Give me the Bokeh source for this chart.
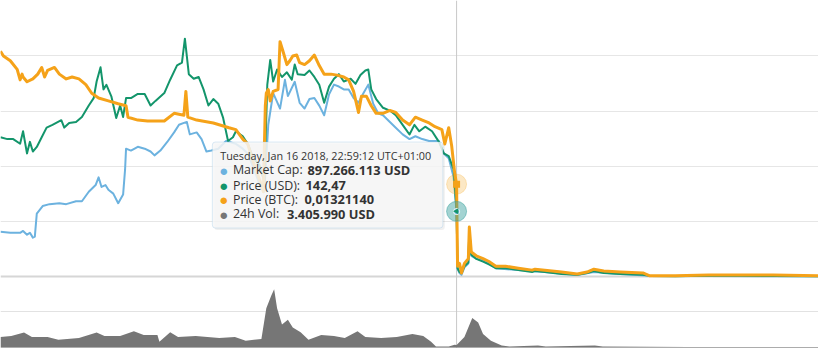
import pandas as pd
from bokeh.plotting import figure
from bokeh.models import Range1d, Grid, FixedTicker, Span, BoxAnnotation, Label
from bokeh.embed import file_html
from bokeh.resources import INLINE

# ---------------- data ----------------
crash_time = pd.Timestamp("2018-01-16 22:59:12")
start_time = pd.Timestamp("2017-12-01 10:59:12")
window_days = 83.4

usd_days = [0, 0.7, 1.3, 2.0, 2.3, 2.7, 3.0, 3.3, 3.7, 4.2, 4.7, 5.3, 6.2, 6.5, 7.0, 7.7, 8.3, 9.0, 9.5, 9.8,
            10.2, 10.5, 10.8, 11.3, 11.8, 12.2, 12.5, 12.8, 13.3, 14.0, 14.7, 15.3, 15.8, 16.7, 17.3, 18.0, 18.5, 18.8, 19.2, 19.7,
            20.2, 20.7, 21.2, 21.7, 22.2, 22.7, 23.2, 23.7, 24.0, 24.7, 25.2, 25.8, 26.4, 26.9, 27.2, 27.5, 27.8, 28.2, 28.7, 29.2,
            29.7, 30.0, 30.3, 31.0, 31.5, 32.0, 32.5, 33.0, 33.5, 34.0, 34.5, 35.0, 35.7, 36.2, 36.7, 37.2, 37.5, 37.8, 38.3, 39.0,
            39.7, 40.3, 41.2, 41.7, 42.2, 42.7, 43.3, 44.0, 44.7, 45.2, 45.7, 46.2, 46.5, 46.6, 46.8, 47.0, 47.3, 47.7, 47.8, 48.0,
            48.5, 49.2, 49.8, 50.5, 51.5, 52.8, 54.2, 54.5, 55.5, 57.2, 58.8, 59.8, 60.5, 61.5, 63.2, 65.5, 66.2, 68.8, 72.2, 75.5,
            78.8, 83.4]
price_usd = [303, 299, 299, 289, 316, 268, 293, 272, 282, 303, 324, 330, 340, 324, 334, 336, 347, 372, 388, 424,
             455, 407, 417, 392, 345, 372, 347, 388, 388, 397, 397, 372, 382, 399, 428, 459, 465, 517, 440, 430,
             434, 407, 372, 386, 376, 345, 295, 303, 316, 305, 289, 257, 243, 206, 417, 471, 424, 450, 434, 444,
             428, 461, 440, 438, 448, 434, 417, 378, 413, 430, 440, 424, 430, 419, 438, 448, 450, 407, 386, 367,
             361, 351, 324, 309, 330, 316, 326, 316, 293, 268, 262, 233, 142.47, 18.7, 10.4, 8.3, 22.8, 31, 102, 48,
             39, 33, 27, 18.7, 18.7, 14.5, 10.4, 12.5, 10.4, 6.2, 4.2, 8.3, 12.5, 8.3, 6.2, 4.2, 2, 1, 2.1, 2.1,
             1.5, 1]

btc_days = [0, 0.3, 1.0, 1.7, 2.0, 2.2, 2.3, 2.7, 3.3, 3.8, 4.2, 4.5, 4.8, 5.5, 6.0, 6.7, 7.3, 8.0, 8.7, 9.3,
            10.0, 11.0, 12.0, 12.8, 13.0, 14.0, 15.0, 16.7, 17.7, 18.7, 18.9, 19.1, 20.0, 21.7, 23.3, 24.0, 24.7, 25.2, 25.8, 26.5,
            26.8, 27.0, 27.1, 27.3, 27.5, 27.8, 28.3, 28.5, 28.8, 29.2, 29.5, 29.8, 30.2, 30.5, 31.0, 31.5, 32.0, 32.5, 33.0, 33.7,
            34.3, 35.0, 35.5, 36.0, 36.5, 36.8, 37.3, 37.8, 38.3, 39.0, 39.7, 40.3, 41.0, 41.7, 42.3, 43.0, 43.7, 44.3, 45.0, 45.3,
            45.7, 46.0, 46.3, 46.5, 46.6, 46.8, 47.0, 47.3, 47.7, 47.8, 48.0, 48.5, 49.2, 49.8, 50.5, 51.5, 52.8, 54.2, 54.5, 55.5,
            57.2, 58.8, 59.8, 60.5, 61.5, 63.2, 65.5, 66.2, 68.8, 72.2, 75.5, 78.8, 83.4]
price_btc = [0.03217, 0.03149, 0.03081, 0.02958, 0.02808, 0.02890, 0.02849, 0.02781, 0.02822, 0.02890,
             0.02985, 0.02849, 0.02944, 0.02985, 0.02890, 0.02822, 0.02849, 0.02822, 0.02740, 0.02617,
             0.02549, 0.02508, 0.02467, 0.02440, 0.02276, 0.02235, 0.02222, 0.02222, 0.02331, 0.02303,
             0.02644, 0.02276, 0.02235, 0.02194, 0.02126, 0.02099, 0.01963, 0.01895, 0.01622, 0.01349,
             0.01213, 0.02440, 0.02617, 0.02671, 0.02508, 0.02644, 0.02671, 0.03353, 0.03217, 0.03026,
             0.03081, 0.03149, 0.03162, 0.03053, 0.03026, 0.03081, 0.03162, 0.03012, 0.02890, 0.02890,
             0.02876, 0.02849, 0.02808, 0.02644, 0.02344, 0.02576, 0.02576, 0.02440, 0.02331, 0.02331,
             0.02372, 0.02344, 0.02235, 0.02167, 0.02276, 0.02235, 0.02194, 0.02140, 0.02099, 0.01895,
             0.02126, 0.01867, 0.01486, 0.0132114, 0.00150, 0.00191, 0.00055, 0.00191, 0.00259, 0.00709,
             0.00354, 0.00300, 0.00259, 0.00218, 0.00150, 0.00150, 0.00123, 0.00095, 0.00109, 0.00095,
             0.00068, 0.00041, 0.00068, 0.00109, 0.00082, 0.00068, 0.00055, 0.00014, 0.00014, 0.00027,
             0.00027, 0.00027, 0.00014]

mcap_days = [0, 1.0, 2.0, 2.3, 2.7, 3.0, 3.3, 3.5, 3.7, 4.3, 5.0, 6.0, 6.7, 7.7, 8.3, 9.0, 9.7, 10.0, 10.3, 10.7,
             11.0, 11.5, 12.0, 12.5, 12.7, 12.8, 13.3, 14.0, 14.7, 15.3, 15.7, 16.3, 17.0, 17.7, 18.2, 18.7, 19.0, 19.3, 20.0, 20.5,
             21.0, 21.5, 22.2, 23.0, 24.0, 24.7, 25.2, 25.8, 26.5, 26.9, 27.3, 27.8, 28.5, 29.0, 29.3, 30.0, 30.5, 31.0, 31.5, 32.0,
             32.5, 33.0, 33.5, 34.0, 34.5, 35.0, 35.5, 36.0, 36.5, 37.0, 37.5, 38.0, 38.5, 39.0, 39.7, 40.3, 41.0, 41.7, 42.3, 43.0,
             43.7, 44.7, 45.2, 45.7, 46.2, 46.5, 46.6, 46.8, 47.0, 47.3, 47.7, 47.8, 48.0, 48.5, 49.2, 49.8, 50.5, 52.8, 55.5, 58.8,
             60.5, 63.2, 66.2, 83.4]
market_cap_musd = [618, 605, 605, 631, 579, 605, 539, 552, 868, 973, 999, 1012, 999, 1039, 1039, 1170, 1262, 1368, 1236, 1262,
                   1197, 1144, 1012, 1131, 1473, 1762, 1736, 1788, 1762, 1723, 1670, 1736, 1854, 1986, 2091, 2117, 2130, 1959, 1986, 1894,
                   1723, 1736, 1762, 1867, 1828, 1762, 1696, 1499, 1236, 1170, 2091, 2525, 2314, 2709, 2485, 2682, 2393, 2314, 2446, 2459,
                   2354, 2222, 2511, 2643, 2617, 2577, 2577, 2459, 2393, 2525, 2643, 2380, 2249, 2222, 2130, 2051, 1959, 1894, 1933, 1894,
                   1867, 1867, 1696, 1631, 1368, 897.266113, 105, 53, 26, 131, 184, 605, 289, 250, 224, 184, 118, 92, 66, 26,
                   66, 39, 13, 7]

vol_days = [0, 1.1, 2.4, 3.2, 4.8, 5.9, 8.0, 9.8, 10.6, 12.2, 13.6, 14.6, 16.0, 16.2, 17.3, 18.1, 19.9, 22.3, 23.9, 25.0,
            26.6, 27.1, 27.6, 27.9, 28.2, 28.7, 29.3, 29.8, 30.6, 31.4, 32.7, 34.0, 35.1, 36.4, 37.2, 38.8, 40.4, 42.0, 43.1, 43.9,
            44.4, 45.7, 46.3, 46.5, 47.3, 48.1, 48.7, 49.2, 50.0, 51.1, 51.9, 54.8, 55.6, 60.6, 61.4, 70.0, 83.4]
volume_musd = [14.7, 16, 21, 14.7, 14.7, 10.7, 13.3, 21, 16, 16, 22.7, 17.3, 17.3, 8, 21.3, 14.7, 16, 13.3, 14.7, 9.3,
               12, 54.7, 72, 81.3, 54.7, 32, 38.7, 28, 21.3, 10.7, 17.3, 16, 13.3, 22.7, 14.7, 13.3, 14.7, 18.7, 16, 8,
               1.3, 1.3, 4, 3.40599, 14.7, 41.3, 34.7, 18.7, 9.3, 2.7, 1.3, 2.7, 1.3, 2.7, 1.3, 0.8, 0.7]

tip_header = "Tuesday, Jan 16 2018, 22:59:12 UTC+01:00"
tip_mcap = 897266113
tip_usd = 142.47
tip_btc = 0.01321140
tip_vol = 3405990

usd_grid = [0, 120, 240, 360, 480]
vol_grid = [0, 50e6]

C_MCAP = "#6cb2df"
C_USD = "#13956b"
C_BTC = "#f5a219"
C_VOL = "#767676"

# ---------------- layout ----------------
W, H = 818, 348
REF_W, REF_H = 834, 364
sx, sy = W / REF_W, H / REF_H
pane_bottom = 289 * sy
below = H - pane_bottom
frac = below / pane_bottom

def to_dt(days):
    return start_time + pd.to_timedelta(days, unit="D")

x0 = start_time
x1 = start_time + pd.Timedelta(days=window_days)

usd_top, btc_top, mcap_top = 600.0, 0.0394, 3.8e9
vol_per_px = 100e6 / (75 * sy)

p = figure(width=W, height=H, x_axis_type="datetime", output_backend="svg",
           toolbar_location=None, min_border=0, x_axis_location=None, y_axis_location=None,
           x_range=Range1d(x0, x1), y_range=Range1d(-frac * usd_top, usd_top))
p.extra_y_ranges = {
    "btc": Range1d(-frac * btc_top, btc_top),
    "mcap": Range1d(-frac * mcap_top, mcap_top),
    "vol": Range1d(-1.0 * vol_per_px, (H - 1.0) * vol_per_px),
}
p.outline_line_color = None
p.background_fill_color = "white"
p.border_fill_color = "white"
p.xgrid.visible = False
p.ygrid.visible = False

p.add_layout(Grid(dimension=1, ticker=FixedTicker(ticks=usd_grid[1:]), grid_line_color="#e6e6e6"))
p.add_layout(Grid(dimension=1, ticker=FixedTicker(ticks=usd_grid[:1]), grid_line_color="#d6d6d6", grid_line_width=2))
p.add_layout(Grid(dimension=1, ticker=FixedTicker(ticks=vol_grid), y_range_name="vol",
                  grid_line_color="#e2e2e2"))

crash_ms = (crash_time - pd.Timestamp("1970-01-01")).total_seconds() * 1000.0
span = Span(location=crash_ms, dimension="height", line_color="#c8c8c8", line_width=1, level="underlay")
p.add_layout(span)

# volume area
vol_x = to_dt(vol_days)
vol_y = [v * 1e6 for v in volume_musd]
p.varea(x=vol_x, y1=[0] * len(vol_y), y2=vol_y, y_range_name="vol", fill_color=C_VOL)

# series lines
p.line(to_dt(mcap_days), [v * 1e6 for v in market_cap_musd], y_range_name="mcap",
       line_color=C_MCAP, line_width=2, line_join="round")
p.line(to_dt(usd_days), price_usd, line_color=C_USD, line_width=2, line_join="round")
p.line(to_dt(btc_days), price_btc, y_range_name="btc", line_color=C_BTC, line_width=3, line_join="round")

# hover markers
p.scatter([crash_time], [tip_mcap], y_range_name="mcap", size=20, color=C_MCAP, alpha=0.3)
p.scatter([crash_time], [tip_usd], size=20, color=C_USD, alpha=0.25)
p.scatter([crash_time], [tip_mcap], y_range_name="mcap", size=6, fill_color=C_MCAP, line_color="white")
p.scatter([crash_time], [tip_usd], marker="triangle", angle=1.5708, size=6, fill_color=C_USD, line_color=None)
p.scatter([crash_time], [tip_btc], y_range_name="btc", size=20, color=C_BTC, alpha=0.25)
p.scatter([crash_time], [tip_btc], y_range_name="btc", marker="square", size=7, fill_color=C_BTC, line_color=None)

# ---------------- tooltip ----------------
xs_ms0 = (x0 - pd.Timestamp("1970-01-01")).total_seconds() * 1000.0
xs_ms1 = (x1 - pd.Timestamp("1970-01-01")).total_seconds() * 1000.0
ylo, yhi = -frac * usd_top, usd_top

def X(ref_px):
    return xs_ms0 + ref_px * sx / W * (xs_ms1 - xs_ms0)

def Y(ref_py):
    return yhi - ref_py * sy / H * (yhi - ylo)

p.add_layout(BoxAnnotation(left=X(218), right=X(453), top=Y(150), bottom=Y(240),
                           fill_color="black", fill_alpha=0.06, line_color=None, border_radius=3))
p.add_layout(BoxAnnotation(left=X(216), right=X(451), top=Y(148), bottom=Y(238),
                           fill_color="#f7f7f7", fill_alpha=0.85, line_color="#8fbfe3",
                           line_width=1, border_radius=3))

def eu_int(v):
    return f"{v:,.0f}".replace(",", ".")

FONT = "Open Sans"
p.add_layout(Label(x=X(224), y=Y(162), text=tip_header, text_font=FONT, text_font_size="10.8px",
                   text_color="#333333", text_baseline="middle"))

rows = [
    (177, C_MCAP, "Market Cap:", f"{eu_int(tip_mcap)} USD", 313),
    (193, C_USD, "Price (USD):", f"{tip_usd:.2f}".replace(".", ","), 311),
    (208, C_BTC, "Price (BTC):", f"{tip_btc:.8f}".replace(".", ","), 310),
    (223, C_VOL, "24h Vol:", f"{eu_int(tip_vol)} USD", 292),
]
for ry, col, lab, val, vx in rows:
    p.add_layout(Label(x=X(223), y=Y(ry), text="\u25cf", text_font=FONT, text_font_size="15px",
                       text_color=col, text_baseline="middle"))
    p.add_layout(Label(x=X(237), y=Y(ry), text=lab, text_font=FONT, text_font_size="12.4px",
                       text_color="#333333", text_baseline="middle"))
    p.add_layout(Label(x=X(vx), y=Y(ry), text=val, text_font=FONT, text_font_size="12.8px",
                       text_font_style="bold", text_color="#333333", text_baseline="middle"))

open("out.html", "w").write(file_html(p, INLINE))
